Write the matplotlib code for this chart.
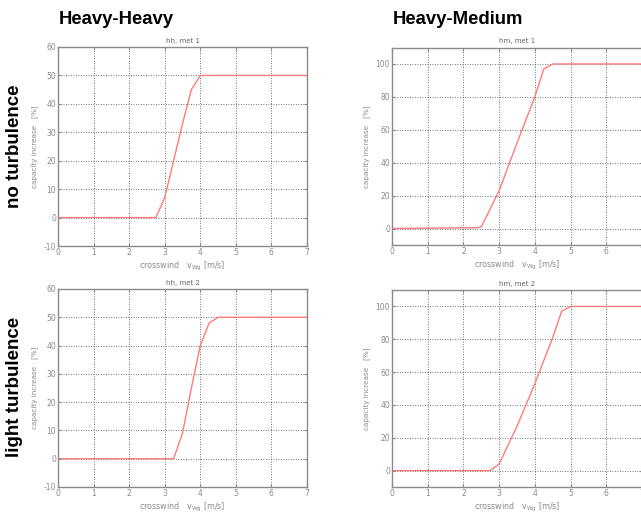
import matplotlib.pyplot as plt
import numpy as np

plt.rcParams['axes.unicode_minus'] = False

# crosswind speed / capacity increase
hh1_x = [0, 2.75, 3.0, 3.25, 3.5, 3.75, 4.0, 7.0]
hh1_y = [0, 0, 7, 20, 33, 45, 50, 50]

hm1_x = [0, 2.35, 2.5, 3.0, 3.5, 4.0, 4.25, 4.5, 7.0]
hm1_y = [0, 0.5, 1, 23, 52, 80, 97, 100, 100]

hh2_x = [0, 3.25, 3.5, 3.75, 4.0, 4.25, 4.5, 7.0]
hh2_y = [0, 0, 9, 25, 40, 48, 50, 50]

hm2_x = [0, 2.75, 3.0, 3.5, 4.0, 4.5, 4.75, 5.0, 7.0]
hm2_y = [0, 0, 4, 27, 53, 81, 97, 100, 100]

titles = ['hh, met 1', 'hm, met 1', 'hh, met 2', 'hm, met 2']
col_titles = ['Heavy-Heavy', 'Heavy-Medium']
row_titles = ['no turbulence', 'light turbulence']

fig = plt.figure(figsize=(6.41, 5.14), dpi=100)
W, H = 641, 514

def box(l, t, r, b):
    return [l / W, 1 - b / H, (r - l) / W, (b - t) / H]

grey = '#8a8a8a'
line_col = '#ff7b7b'

panels = [
    (box(58, 47, 307, 246), hh1_x, hh1_y, titles[0], (-10, 60), 10),
    (box(392, 47.5, 642, 245), hm1_x, hm1_y, titles[1], (-10, 110), 20),
    (box(58, 289, 307, 487), hh2_x, hh2_y, titles[2], (-10, 60), 10),
    (box(392, 290, 642, 487), hm2_x, hm2_y, titles[3], (-10, 110), 20),
]

for rect, x, y, ttl, ylim, step in panels:
    ax = fig.add_axes(rect)
    ax.plot(x, y, color=line_col, lw=1.0)
    ax.set_xlim(0, 7)
    ax.set_ylim(*ylim)
    ax.set_xticks(np.arange(0, 8, 1))
    ax.set_yticks(np.arange(ylim[0] if step == 10 else 0, ylim[1] + 1, step))
    ax.grid(True, color='#444444', linestyle=(0, (1, 2)), linewidth=0.6)
    ax.tick_params(direction='in', length=2.5, labelsize=5.5, colors=grey,
                   labelcolor=grey, pad=1.5, top=True, right=True)
    for s in ax.spines.values():
        s.set_color(grey)
        s.set_linewidth(1.0)
    ax.set_title(ttl, fontsize=5, color='#666666', pad=3)
    ax.set_xlabel(r'crosswind   v$_{\rm Wg}$ [m/s]', fontsize=5.8, color=grey, labelpad=2)
    ax.set_ylabel('capacity increase   [%]', fontsize=5.2, color=grey, labelpad=4)

fig.text(59 / W, 1 - 19 / H, col_titles[0], fontsize=13.3, fontweight='bold',
         family='Liberation Sans', va='center', ha='left')
fig.text(393 / W, 1 - 19 / H, col_titles[1], fontsize=13.3, fontweight='bold',
         family='Liberation Sans', va='center', ha='left')
fig.text(15 / W, 1 - 146 / H, row_titles[0], fontsize=13.5, fontweight='bold',
         family='Liberation Sans', va='center', ha='center', rotation=90)
fig.text(15 / W, 1 - 387 / H, row_titles[1], fontsize=13.5, fontweight='bold',
         family='Liberation Sans', va='center', ha='center', rotation=90)

fig.savefig('out.png', dpi=100)
